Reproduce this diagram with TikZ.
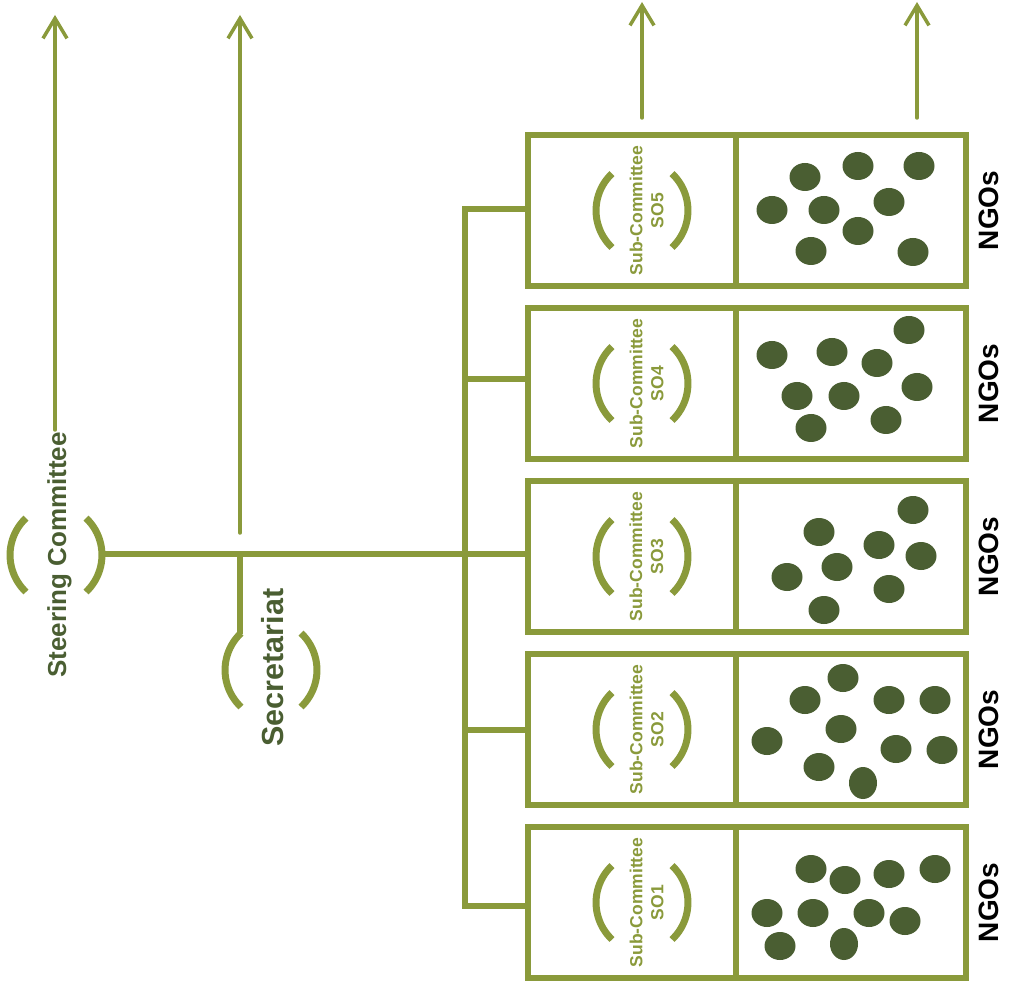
\documentclass[tikz,border=0pt]{standalone}
\usepackage{fontspec}
\setmainfont{Liberation Sans}
\usetikzlibrary{arrows.meta}
\definecolor{leaf}{RGB}{138,154,59}
\definecolor{moss}{RGB}{74,94,50}
\begin{document}
\begin{tikzpicture}[x=1pt,y=-1pt,
  link/.style={draw=leaf, line width=6},
  uparrow/.style={draw=leaf, line width=3.5, line cap=round,
    -{Straight Barb[length=20pt,width=24pt]}},
  cell/.style={draw=leaf, fill=white, line width=6, minimum height=151, inner sep=0pt},
  subcell/.style={cell, minimum width=208},
  ngocell/.style={cell, minimum width=230},
  member/.style={fill=moss},
  brk/.pic={
    \draw[leaf, line width=7] (-30,37) arc[start angle=133.3, end angle=226.7, radius=50.8];
    \draw[leaf, line width=7] (30,37) arc[start angle=46.7, end angle=-46.7, radius=50.8];
  },
  bigtitle/.style={rotate=90, anchor=base, text=moss, font=\bfseries\fontsize{26}{30}\selectfont},
  subtitle/.style={rotate=90, align=center, text=leaf, inner sep=0pt,
    font=\bfseries\fontsize{17.5}{21}\selectfont},
  ngotitle/.style={rotate=90, anchor=base, text=black, font=\bfseries\fontsize{28}{32}\selectfont}
]
\useasboundingbox (0,0) rectangle (1013,984);

% trunk junctions
\coordinate (t5) at (465,209);
\coordinate (t4) at (465,379);
\coordinate (t3) at (465,554);
\coordinate (t2) at (465,730);
\coordinate (t1) at (465,906);

% committee rows: sub-committee cell and NGO cell
\foreach \i/\yc in {5/210.5, 4/383.5, 3/556.5, 2/729.5, 1/902.5}{
  \node[subcell] (sub\i) at (632,\yc) {};
  \node[ngocell] (ngo\i) at (851,\yc) {};
  \pic at (642,\yc) {brk};
  \node[subtitle] (subt\i) at (646.5,\yc) {Sub-Committee\\SO\i};
  \node[ngotitle] (ngot\i) at (998,\yc) {NGOs};
}

% NGO members
\foreach \x/\y in {805/177,858/166,919/166,772/210,824/210,889/202,858/231,811/251,913/252,
                   772/355,832/352,909/330,877/363,797/396,844/396,917/387,811/428,886/420,
                   913/510,819/532,879/545,921/556,837/567,787/577,889/589,824/610,
                   843/678,805/700,889/700,935/700,767/741,841/729,896/749,942/750,819/767,
                   811/869,845/880,889/874,935/869,767/913,813/913,869/913,905/921,780/946}
  \fill[member] (\x,\y) ellipse[x radius=15.5, y radius=14];
\foreach \x/\y in {863/783, 844/944}
  \fill[member] (\x,\y) ellipse[x radius=14, y radius=16];

% steering committee
\pic at (56,555) {brk};
\node[bigtitle] (steer) at (66,555) {Steering Committee};
\coordinate (steerR) at (102,554);

% secretariat
\pic at (271,670) {brk};
\node[bigtitle, font=\bfseries\fontsize{30.5}{34}\selectfont] (secr) at (283,667.5) {Secretariat};
\coordinate (secJ) at (240,554);
\coordinate (secT) at (240,634);

% tree of links
\draw[link] (t5 -| sub5.west) -- (t5) -- (t1) -- (t1 -| sub1.west);
\draw[link] (t4) -- (t4 -| sub4.west);
\draw[link] (t2) -- (t2 -| sub2.west);
\draw[link, line width=6.5] (steerR) -- (t3) -- (t3 -| sub3.west);
\draw[link] (secJ) -- (secT);

% upward arrows
\coordinate (sa0) at (55,430);   \coordinate (sa1) at (55,15);
\coordinate (ra0) at (240,533);  \coordinate (ra1) at (240,15);
\coordinate (ua0) at (642,118);  \coordinate (ua1) at (642,2);
\coordinate (va0) at (917,118);  \coordinate (va1) at (917,2);
\draw[uparrow] (sa0) -- (sa1);
\draw[uparrow] (ra0) -- (ra1);
\draw[uparrow] (ua0) -- (ua1);
\draw[uparrow] (va0) -- (va1);
\end{tikzpicture}
\end{document}
